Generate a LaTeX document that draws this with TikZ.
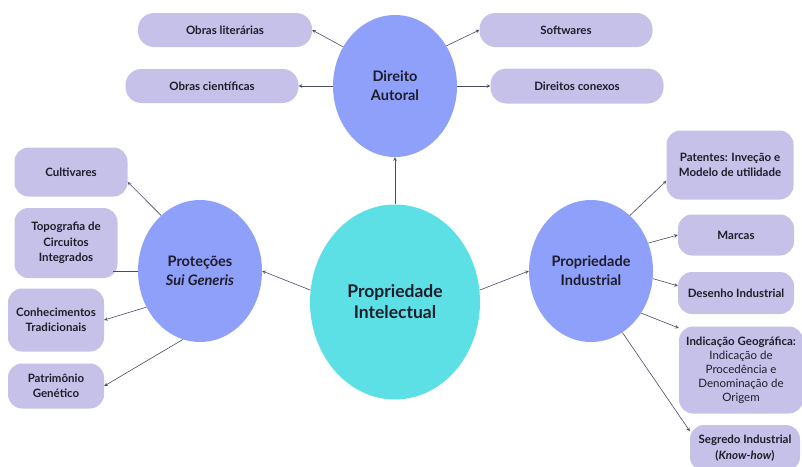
\documentclass[tikz,border=0pt]{standalone}
\usepackage{fontspec}
\setmainfont{Lato}
\usetikzlibrary{shapes.geometric}
\definecolor{lilas}{HTML}{C6C1E8}
\definecolor{azul}{HTML}{8FA0FA}
\definecolor{ciano}{HTML}{5CE0E6}
\definecolor{tinta}{HTML}{1E1D2B}
\definecolor{seta}{HTML}{4B4867}
\tikzset{
	bolha/.style={
		shape = ellipse,
		inner sep = 0pt,
		fill = azul,
		minimum width = 124pt,
		minimum height = 142pt,
		align = center,
		font = \fontsize{14.5}{19}\selectfont\bfseries
	},
	caixa/.style={
		shape = rectangle,
		rounded corners = 14pt,
		fill = lilas,
		inner sep = 2pt,
		align = center,
		font = \fontsize{11.5}{15.5}\selectfont\bfseries
	},
	ligacao/.style={
		draw = seta,
		line width = 0.6pt,
		->
	},
}
\tikzset{>=stealth}

\begin{document}
\begin{tikzpicture}[x=1pt, y=-1pt, text=tinta]
    \useasboundingbox (0,0) rectangle (802,466);
    % circulos
    \node[bolha, fill=ciano, minimum width=170pt, minimum height=195pt,
      font=\fontsize{17.5}{21}\selectfont\bfseries] (pi) at (395,302) {Propriedade\\Intelectual};
    \node[bolha] (da) at (395,86) {Direito\\Autoral};
    \node[bolha] (sg) at (200,271) {Proteções\\\textit{Sui Generis}};
    \node[bolha] (pind) at (591,271) {Propriedade\\Industrial};
    % caixas
    \node[caixa, rounded corners=16pt, minimum width=174pt, minimum height=34pt] (lit) at (225,30) {Obras literárias};
    \node[caixa, rounded corners=16pt, minimum width=173pt, minimum height=34pt] (cie) at (212,86) {Obras científicas};
    \node[caixa, rounded corners=16pt, minimum width=173pt, minimum height=34pt] (soft) at (566,30) {Softwares};
    \node[caixa, rounded corners=16pt, minimum width=173pt, minimum height=35pt] (con) at (577,86) {Direitos conexos};
    \node[caixa, minimum width=113pt, minimum height=49pt] (cult) at (71,172) {Cultivares};
    \node[caixa, minimum width=103pt, minimum height=70pt] (topo) at (66,243) {Topografia de\\Circuitos\\Integrados};
    \node[caixa, minimum width=96pt, minimum height=63pt] (conh) at (56,320) {Conhecimentos\\Tradicionais};
    \node[caixa, minimum width=96pt, minimum height=45pt] (patr) at (56,386) {Patrimônio\\Genético};
    \node[caixa, minimum width=127pt, minimum height=69pt] (pat) at (730,165) {Patentes: Inveção e\\Modelo de utilidade};
    \node[caixa, minimum width=116pt, minimum height=41pt] (marc) at (736,235) {Marcas};
    \node[caixa, minimum width=116pt, minimum height=42pt] (des) at (736,293) {Desenho Industrial};
    \node[caixa, minimum width=124pt, minimum height=87pt, font=\fontsize{11.5}{14}\selectfont\bfseries] (ig) at (741,370)
      {Indicação Geográfica:\\\mdseries Indicação de\\\mdseries Procedência e\\\mdseries Denominação de\\\mdseries Origem};
    \node[caixa, minimum width=110pt, minimum height=46pt] (seg) at (745,448) {Segredo Industrial\\(\textit{Know-how})};
    % setas
    \draw[ligacao] (pi.north) -- (da.south);
    \draw[ligacao] (pi.172) -- (sg.east);
    \draw[ligacao] (pi.8) -- (pind.west);
    \draw[ligacao] (da.143) -- (lit.east);
    \draw[ligacao] (da.west) -- (cie.east);
    \draw[ligacao] (da.38) -- (soft.west);
    \draw[ligacao] (da.east) -- (con.west);
    \draw[ligacao] (sg.125) -- (cult.-10);
    \draw[ligacao, -] (sg.west) -- ([xshift=-5pt]sg.west -| topo.east);
    \draw[ligacao] (sg.214) -- (conh.east);
    \draw[ligacao] (sg.256) -- (patr.east);
    \draw[ligacao] (pind.55) -- (pat.194);
    \draw[ligacao] (pind.26) -- (marc.west);
    \draw[ligacao] (pind.-7) -- (des.173);
    \draw[ligacao] (pind.-40) -- (ig.146);
    \draw[ligacao] (pind.-63) -- (seg.163);
\end{tikzpicture}
\end{document}
